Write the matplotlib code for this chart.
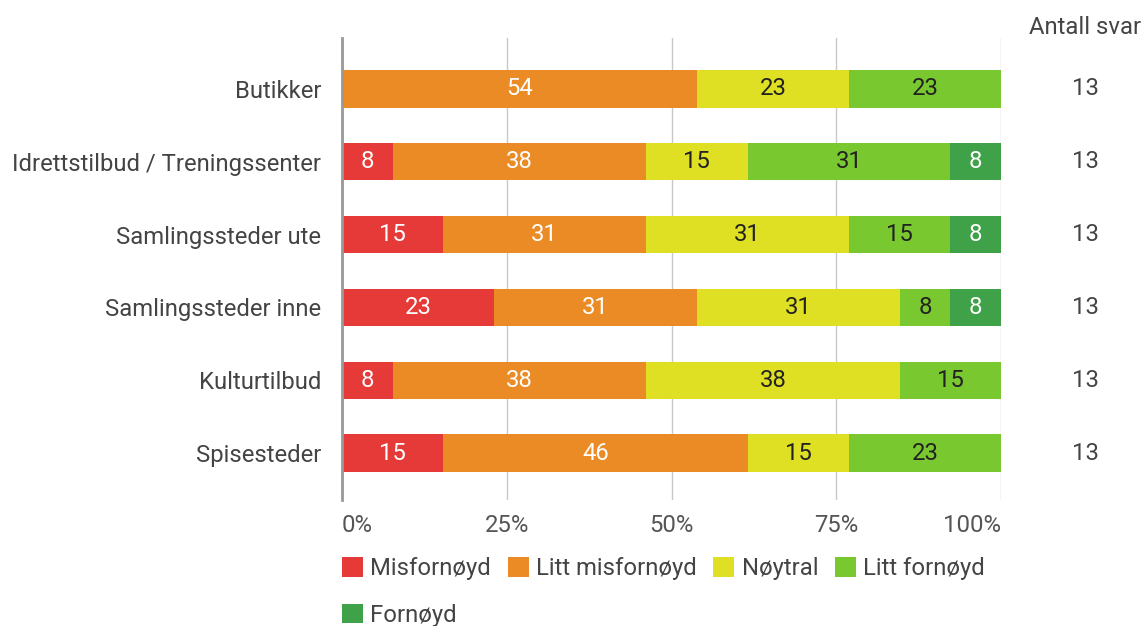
import numpy as np
import matplotlib.pyplot as plt
from matplotlib.patches import FancyBboxPatch
from matplotlib.legend_handler import HandlerPatch
from matplotlib.transforms import blended_transform_factory

plt.rcParams['font.family'] = ['Roboto', 'DejaVu Sans']

# Survey: satisfaction with local offers (number of answers per category)
categories = ['Butikker', 'Idrettstilbud / Treningssenter', 'Samlingssteder ute',
              'Samlingssteder inne', 'Kulturtilbud', 'Spisesteder']
levels = ['Misfornøyd', 'Litt misfornøyd', 'Nøytral', 'Litt fornøyd', 'Fornøyd']
misfornoyd = [0, 1, 2, 3, 1, 2]
litt_misfornoyd = [7, 5, 4, 4, 5, 6]
noytral = [3, 2, 4, 4, 5, 2]
litt_fornoyd = [3, 4, 2, 1, 2, 3]
fornoyd = [0, 1, 1, 1, 0, 0]
antall_svar = [13, 13, 13, 13, 13, 13]
xticks = [0, 25, 50, 75, 100]

colors = ['#e53a37', '#eb8b25', '#dfe023', '#7ac830', '#3fa148']
text_colors = ['white', 'white', '#222222', '#222222', 'white']
FS = 17.2

counts = np.array([misfornoyd, litt_misfornoyd, noytral, litt_fornoyd, fornoyd], dtype=float)
shares = counts / np.array(antall_svar) * 100

fig = plt.figure(figsize=(11.44, 6.26), dpi=100)
ax = fig.add_axes([342 / 1144, 1 - 500 / 626, 659 / 1144, 462 / 626])

y = np.arange(len(categories))
left = np.zeros(len(categories))
handles = []
for i, level in enumerate(levels):
    bars = ax.barh(y, shares[i], left=left, height=0.51, color=colors[i],
                   label=level, zorder=3)
    handles.append(bars)
    for j, val in enumerate(shares[i]):
        if val > 0:
            ax.text(left[j] + val / 2, y[j], f'{val:.0f}', ha='center', va='center',
                    fontsize=FS, color=text_colors[i], zorder=4)
    left += shares[i]

ax.set_xlim(0, 100)
ax.set_ylim(5.645, -0.70)
ax.set_yticks(y)
ax.set_yticklabels(categories, fontsize=FS, color='#444444')
ax.set_xticks(xticks)
ax.set_xticklabels([f'{t}%' for t in xticks], fontsize=FS, color='#555555')
# keep the end labels inside the plot width
xlabels = ax.get_xticklabels()
xlabels[0].set_horizontalalignment('left')
xlabels[-1].set_horizontalalignment('right')
ax.tick_params(axis='y', length=0, pad=15)
ax.tick_params(axis='x', length=0, pad=10)
ax.grid(axis='x', color='#c8c8c8', linewidth=1, zorder=0)
for side in ['top', 'right', 'bottom']:
    ax.spines[side].set_visible(False)
ax.spines['left'].set_color('#999999')
ax.spines['left'].set_linewidth(2)
ax.spines['left'].set_zorder(5)

# Answer counts in a column to the right of the bars
trans = blended_transform_factory(ax.transAxes, ax.transData)
xcol = (1085 - 342) / 659
ax.text(xcol, -0.85, 'Antall svar', transform=trans, ha='center', va='center',
        fontsize=FS, color='#444444', clip_on=False)
for j, n in enumerate(antall_svar):
    ax.text(xcol, y[j], str(n), transform=trans, ha='center', va='center',
            fontsize=FS, color='#444444', clip_on=False)


def rounded_square(legend, orig_handle, xdescent, ydescent, width, height, fontsize):
    side = min(width, height)
    return FancyBboxPatch((-xdescent, -ydescent + (height - side) / 2), side, side,
                          boxstyle='round,pad=0,rounding_size=2.5')


# Legend: four per row, last item wraps to a second row
order = [0, 4, 1, 2, 3]
leg = fig.legend([handles[k] for k in order], [levels[k] for k in order],
                 loc='upper left', bbox_to_anchor=(342 / 1144, 1 - 557 / 626),
                 ncol=4, frameon=False, fontsize=FS, handlelength=0.88,
                 handleheight=0.88, handletextpad=0.3, columnspacing=0.7,
                 labelspacing=1.0, borderpad=0, borderaxespad=0,
                 handler_map={type(handles[0].patches[0]): HandlerPatch(patch_func=rounded_square)})
for t in leg.get_texts():
    t.set_color('#444444')

fig.savefig('out.png', dpi=100)
